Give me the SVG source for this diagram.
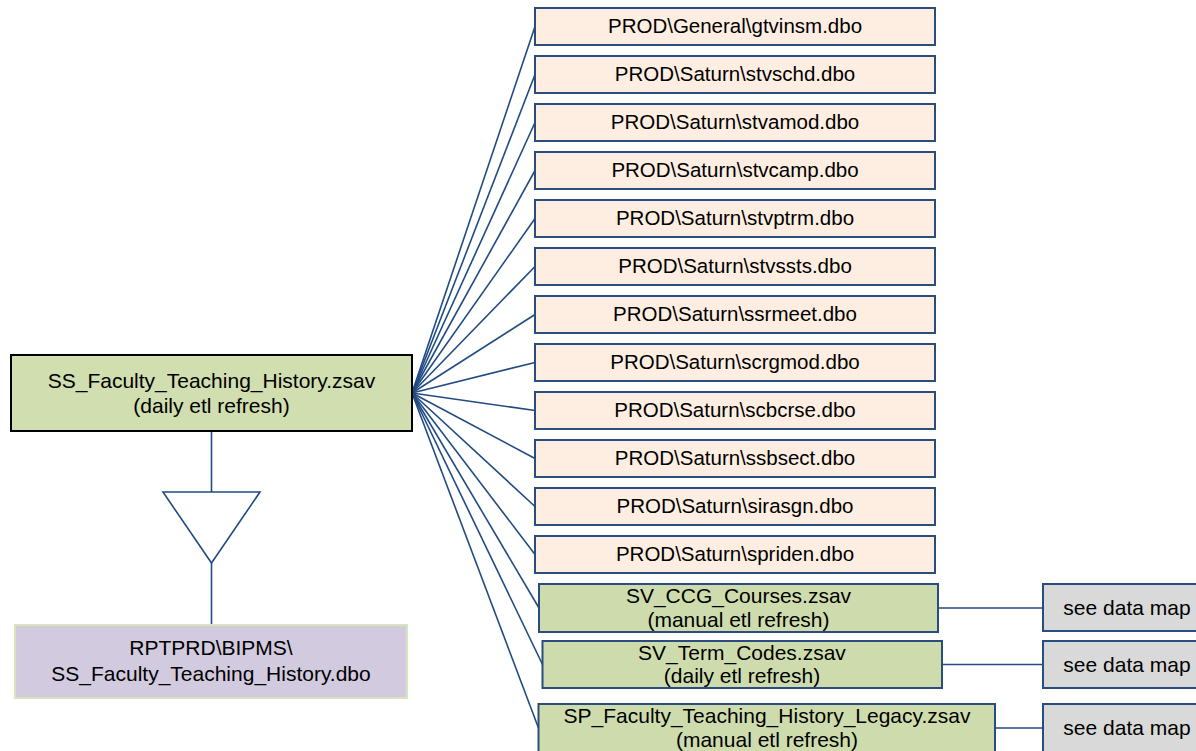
<svg xmlns="http://www.w3.org/2000/svg" width="1196" height="751" viewBox="0 0 1196 751">
<style>
text{font-family:"Liberation Sans",Arial,sans-serif;font-size:21px;fill:#000;text-anchor:middle}
.prod rect{fill:#FDEEE1;stroke:#2A4D80;stroke-width:2}
.prod text{font-size:20.5px}
.gl rect{fill:#CEDCAD;stroke:#2A4D80;stroke-width:2}
.gr rect{fill:#D9D9D9;stroke:#2A4D80;stroke-width:2}
#connectors line,#connectors path{stroke:#204B83;stroke-width:1.6;fill:none}
</style>
<rect width="1196" height="751" fill="#fff"/>
<g id="connectors">
<line x1="412" y1="393" x2="535" y2="26.5"/>
<line x1="412" y1="393" x2="535" y2="74.5"/>
<line x1="412" y1="393" x2="535" y2="122.5"/>
<line x1="412" y1="393" x2="535" y2="170.5"/>
<line x1="412" y1="393" x2="535" y2="218.5"/>
<line x1="412" y1="393" x2="535" y2="266.5"/>
<line x1="412" y1="393" x2="535" y2="314.5"/>
<line x1="412" y1="393" x2="535" y2="362.5"/>
<line x1="412" y1="393" x2="535" y2="410.5"/>
<line x1="412" y1="393" x2="535" y2="458.5"/>
<line x1="412" y1="393" x2="535" y2="506.5"/>
<line x1="412" y1="393" x2="535" y2="554.5"/>
<line x1="412" y1="393" x2="539" y2="608"/>
<line x1="412" y1="393" x2="542.5" y2="664.5"/>
<line x1="412" y1="393" x2="538.5" y2="728"/>
<line x1="938" y1="608" x2="1043" y2="608"/>
<line x1="942" y1="664.5" x2="1043" y2="664.5"/>
<line x1="995" y1="728" x2="1043" y2="728"/>
<line x1="211.5" y1="431" x2="211.5" y2="492"/>
<path d="M163,492 L260,492 L211.5,563 Z"/>
<line x1="211.5" y1="563" x2="211.5" y2="625"/>
</g>
<g id="main">
<rect x="11" y="355" width="401" height="76" fill="#D0DEB0" stroke="#000" stroke-width="2"/>
<text x="211.5" y="388">SS_Faculty_Teaching_History.zsav</text>
<text x="211.5" y="413">(daily etl refresh)</text>
</g>
<g id="target">
<rect x="15" y="625" width="392" height="73" fill="#D2CADF" stroke="#D8E4BC" stroke-width="2"/>
<text x="211" y="655">RPTPRD\BIPMS\</text>
<text x="211" y="681">SS_Faculty_Teaching_History.dbo</text>
</g>
<g id="p1" class="prod"><rect x="535" y="8" width="400" height="37"/><text x="735" y="32.5">PROD\General\gtvinsm.dbo</text></g>
<g id="p2" class="prod"><rect x="535" y="56" width="400" height="37"/><text x="735" y="80.5">PROD\Saturn\stvschd.dbo</text></g>
<g id="p3" class="prod"><rect x="535" y="104" width="400" height="37"/><text x="735" y="128.5">PROD\Saturn\stvamod.dbo</text></g>
<g id="p4" class="prod"><rect x="535" y="152" width="400" height="37"/><text x="735" y="176.5">PROD\Saturn\stvcamp.dbo</text></g>
<g id="p5" class="prod"><rect x="535" y="200" width="400" height="37"/><text x="735" y="224.5">PROD\Saturn\stvptrm.dbo</text></g>
<g id="p6" class="prod"><rect x="535" y="248" width="400" height="37"/><text x="735" y="272.5">PROD\Saturn\stvssts.dbo</text></g>
<g id="p7" class="prod"><rect x="535" y="296" width="400" height="37"/><text x="735" y="320.5">PROD\Saturn\ssrmeet.dbo</text></g>
<g id="p8" class="prod"><rect x="535" y="344" width="400" height="37"/><text x="735" y="368.5">PROD\Saturn\scrgmod.dbo</text></g>
<g id="p9" class="prod"><rect x="535" y="392" width="400" height="37"/><text x="735" y="416.5">PROD\Saturn\scbcrse.dbo</text></g>
<g id="p10" class="prod"><rect x="535" y="440" width="400" height="37"/><text x="735" y="464.5">PROD\Saturn\ssbsect.dbo</text></g>
<g id="p11" class="prod"><rect x="535" y="488" width="400" height="37"/><text x="735" y="512.5">PROD\Saturn\sirasgn.dbo</text></g>
<g id="p12" class="prod"><rect x="535" y="536" width="400" height="37"/><text x="735" y="560.5">PROD\Saturn\spriden.dbo</text></g>
<g id="g1" class="gl"><rect x="539" y="584" width="399" height="48"/><text x="738.5" y="603">SV_CCG_Courses.zsav</text><text x="738.5" y="627">(manual etl refresh)</text></g>
<g id="g2" class="gl"><rect x="542.5" y="641" width="399.5" height="47"/><text x="742" y="660">SV_Term_Codes.zsav</text><text x="742" y="683">(daily etl refresh)</text></g>
<g id="g3" class="gl"><rect x="538.5" y="704" width="456.5" height="48"/><text x="767" y="723">SP_Faculty_Teaching_History_Legacy.zsav</text><text x="767" y="747">(manual etl refresh)</text></g>
<g id="d1" class="gr"><rect x="1043" y="584" width="170" height="47"/><text x="1127" y="615">see data map</text></g>
<g id="d2" class="gr"><rect x="1043" y="641" width="170" height="47"/><text x="1127" y="672">see data map</text></g>
<g id="d3" class="gr"><rect x="1043" y="704" width="170" height="48"/><text x="1127" y="735">see data map</text></g>
</svg>
